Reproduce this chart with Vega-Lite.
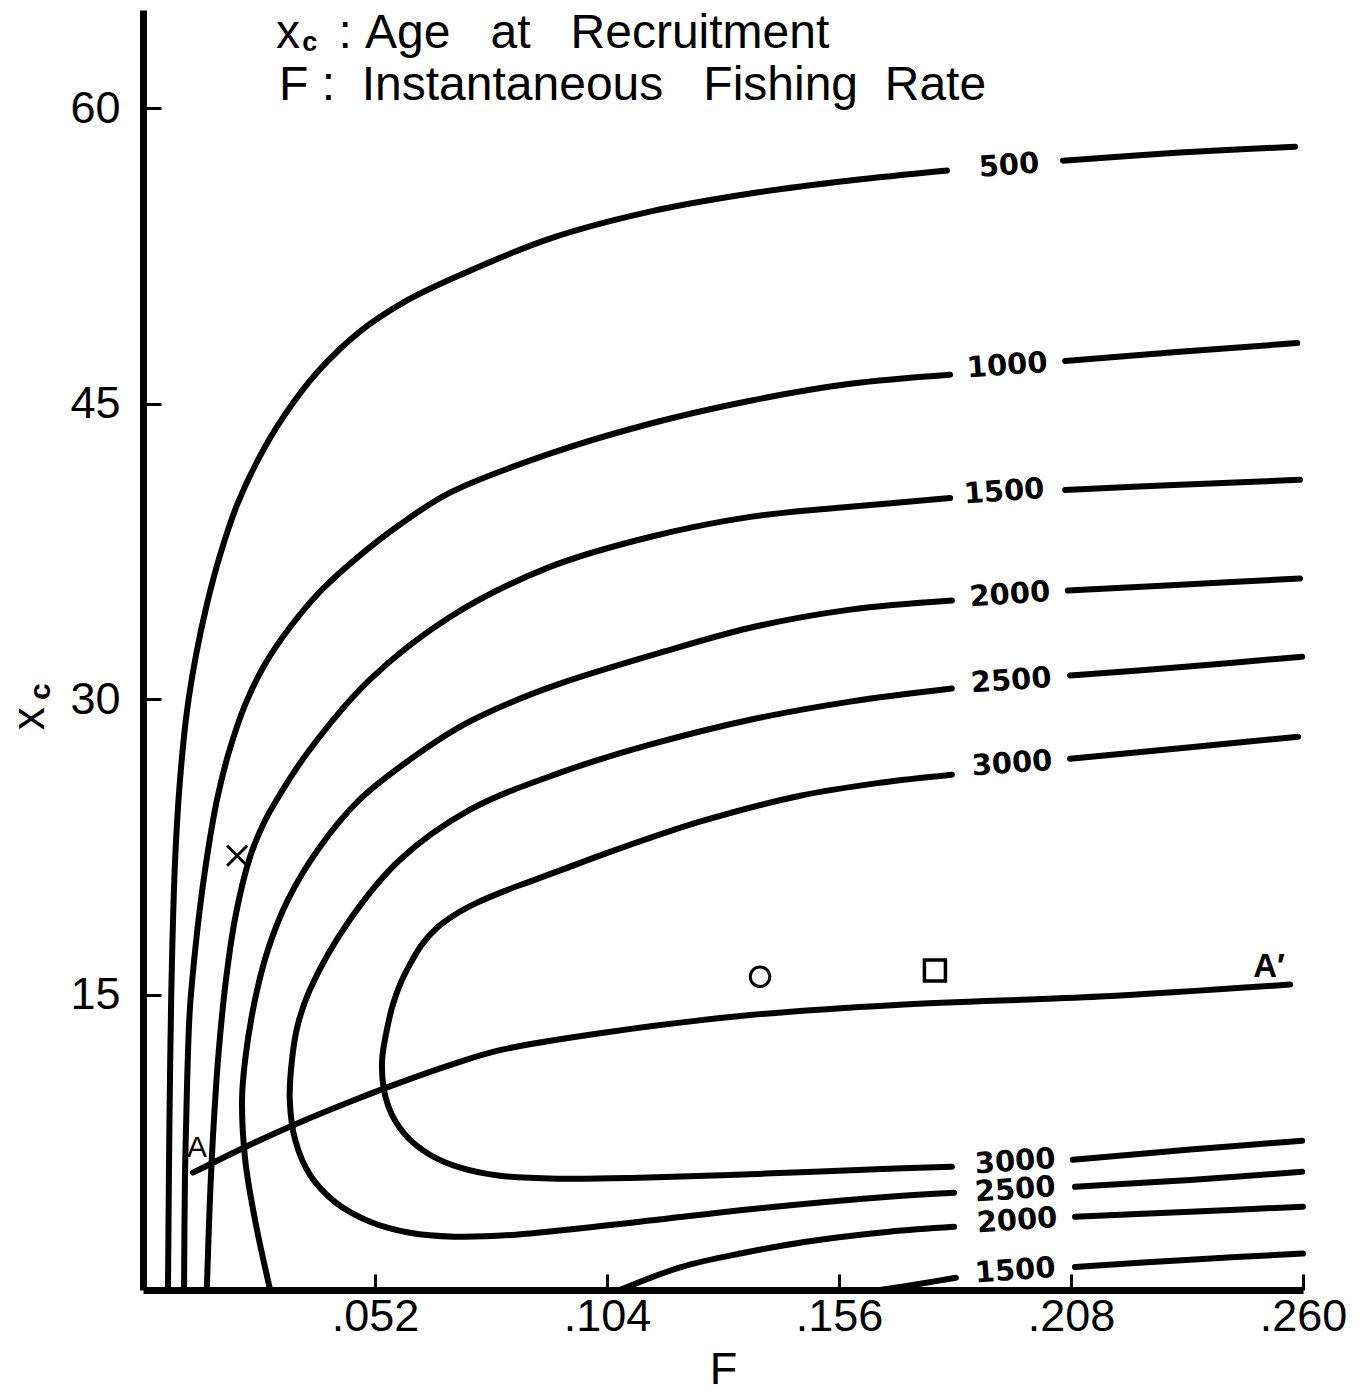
{
  "$schema": "https://vega.github.io/schema/vega-lite/v6.json",
  "width": 1160,
  "height": 1280,
  "autosize": {"type": "none"},
  "padding": {"left": 143, "top": 10, "right": 60, "bottom": 102},
  "background": "white",
  "config": {
    "view": {"stroke": null},
    "axis": {
      "domainColor": "black", "domainWidth": 7, "tickColor": "black", "tickWidth": 3,
      "labelColor": "black", "labelFont": "Liberation Sans", "labelFontSize": 45,
      "titleFont": "Liberation Sans", "titleFontSize": 45, "titleFontWeight": "normal",
      "titleColor": "black", "grid": false, "labelFlush": false
    }
  },
  "encoding": {
    "x": {"field": "F", "type": "quantitative",
      "scale": {"domain": [0, 0.26], "nice": false, "zero": false},
      "axis": {"title": "F", "values": [0.052, 0.104, 0.156, 0.208, 0.26],
        "labelExpr": "substring(format(datum.value, '.3f'), 1)",
        "tickSize": -16, "labelPadding": 20, "titlePadding": 8}},
    "y": {"field": "Y", "type": "quantitative",
      "scale": {"domain": [0, 65], "nice": false},
      "axis": {"title": null, "values": [15, 30, 45, 60], "tickSize": -18, "labelPadding": 41}}
  },
  "layer": [
    {
      "data": {"values": [
        {"c":"500L","i":1,"F":0.0056,"Y":0},{"c":"500L","i":2,"F":0.0058,"Y":5.6},{"c":"500L","i":3,"F":0.0061,"Y":11.7},{"c":"500L","i":4,"F":0.0065,"Y":16.77},{"c":"500L","i":5,"F":0.0072,"Y":21.85},{"c":"500L","i":6,"F":0.0083,"Y":25.92},{"c":"500L","i":7,"F":0.0099,"Y":29.47},{"c":"500L","i":8,"F":0.0119,"Y":32.26},{"c":"500L","i":9,"F":0.0143,"Y":34.8},{"c":"500L","i":10,"F":0.0173,"Y":37.34},{"c":"500L","i":11,"F":0.0211,"Y":39.88},{"c":"500L","i":12,"F":0.0258,"Y":42.17},{"c":"500L","i":13,"F":0.0318,"Y":44.45},{"c":"500L","i":14,"F":0.0392,"Y":46.64},{"c":"500L","i":15,"F":0.0486,"Y":48.67},{"c":"500L","i":16,"F":0.0587,"Y":50.19},{"c":"500L","i":17,"F":0.0688,"Y":51.31},{"c":"500L","i":18,"F":0.0912,"Y":53.39},{"c":"500L","i":19,"F":0.1136,"Y":54.76},{"c":"500L","i":20,"F":0.1361,"Y":55.68},{"c":"500L","i":21,"F":0.1585,"Y":56.34},{"c":"500L","i":22,"F":0.1802,"Y":56.85},
        {"c":"500R","i":23,"F":0.2062,"Y":57.35},{"c":"500R","i":24,"F":0.2324,"Y":57.76},{"c":"500R","i":25,"F":0.2582,"Y":58.06},
        {"c":"1000L","i":30,"F":0.0092,"Y":0},{"c":"1000L","i":31,"F":0.0094,"Y":5.6},{"c":"1000L","i":32,"F":0.0099,"Y":10.68},{"c":"1000L","i":33,"F":0.0105,"Y":14.24},{"c":"1000L","i":34,"F":0.0117,"Y":17.28},{"c":"1000L","i":35,"F":0.013,"Y":19.82},{"c":"1000L","i":36,"F":0.0146,"Y":22.36},{"c":"1000L","i":37,"F":0.0166,"Y":24.91},{"c":"1000L","i":38,"F":0.0193,"Y":27.35},{"c":"1000L","i":39,"F":0.0229,"Y":29.73},{"c":"1000L","i":40,"F":0.0273,"Y":31.76},{"c":"1000L","i":41,"F":0.0329,"Y":33.64},{"c":"1000L","i":42,"F":0.0397,"Y":35.47},{"c":"1000L","i":43,"F":0.0475,"Y":37.09},{"c":"1000L","i":44,"F":0.0576,"Y":38.87},{"c":"1000L","i":45,"F":0.0688,"Y":40.49},{"c":"1000L","i":46,"F":0.0912,"Y":42.47},{"c":"1000L","i":47,"F":0.1136,"Y":43.99},{"c":"1000L","i":48,"F":0.1361,"Y":45.16},{"c":"1000L","i":49,"F":0.1585,"Y":46.02},{"c":"1000L","i":50,"F":0.1809,"Y":46.48},
        {"c":"1000R","i":51,"F":0.2067,"Y":47.18},{"c":"1000R","i":52,"F":0.2324,"Y":47.64},{"c":"1000R","i":53,"F":0.2587,"Y":48.09},
        {"c":"1500L","i":60,"F":0.0143,"Y":0},{"c":"1500L","i":61,"F":0.015,"Y":4.59},{"c":"1500L","i":62,"F":0.0159,"Y":8.65},{"c":"1500L","i":63,"F":0.017,"Y":12.2},{"c":"1500L","i":64,"F":0.0186,"Y":15.76},{"c":"1500L","i":65,"F":0.0208,"Y":19.06},{"c":"1500L","i":66,"F":0.024,"Y":22.0},{"c":"1500L","i":67,"F":0.0269,"Y":23.63},{"c":"1500L","i":68,"F":0.03,"Y":24.91},{"c":"1500L","i":69,"F":0.0374,"Y":27.45},{"c":"1500L","i":70,"F":0.0509,"Y":31.01},{"c":"1500L","i":71,"F":0.0688,"Y":34.18},{"c":"1500L","i":72,"F":0.0912,"Y":36.72},{"c":"1500L","i":73,"F":0.1136,"Y":38.24},{"c":"1500L","i":74,"F":0.1361,"Y":39.26},{"c":"1500L","i":75,"F":0.1585,"Y":39.77},{"c":"1500L","i":76,"F":0.1809,"Y":40.22},
        {"c":"1500R","i":77,"F":0.2067,"Y":40.63},{"c":"1500R","i":78,"F":0.2324,"Y":40.89},{"c":"1500R","i":79,"F":0.2593,"Y":41.14},
        {"c":"1500bL","i":80,"F":0.1652,"Y":0},{"c":"1500bL","i":81,"F":0.1742,"Y":0.32},{"c":"1500bL","i":82,"F":0.1822,"Y":0.62},
        {"c":"1500bR","i":83,"F":0.2089,"Y":1.17},{"c":"1500bR","i":84,"F":0.2347,"Y":1.54},{"c":"1500bR","i":85,"F":0.26,"Y":1.85},
        {"c":"2000L","i":90,"F":0.0285,"Y":0},{"c":"2000L","i":91,"F":0.0251,"Y":3.57},{"c":"2000L","i":92,"F":0.0229,"Y":6.62},{"c":"2000L","i":93,"F":0.0222,"Y":9.67},{"c":"2000L","i":94,"F":0.0229,"Y":11.7},{"c":"2000L","i":95,"F":0.0251,"Y":14.74},{"c":"2000L","i":96,"F":0.028,"Y":17.28},{"c":"2000L","i":97,"F":0.0325,"Y":19.82},{"c":"2000L","i":98,"F":0.0392,"Y":22.36},{"c":"2000L","i":99,"F":0.0486,"Y":24.91},{"c":"2000L","i":100,"F":0.0598,"Y":26.93},{"c":"2000L","i":101,"F":0.0711,"Y":28.61},{"c":"2000L","i":102,"F":0.0823,"Y":29.82},{"c":"2000L","i":103,"F":0.0935,"Y":30.79},{"c":"2000L","i":104,"F":0.1152,"Y":32.31},{"c":"2000L","i":105,"F":0.1361,"Y":33.63},{"c":"2000L","i":106,"F":0.1585,"Y":34.55},{"c":"2000L","i":107,"F":0.1813,"Y":35.01},
        {"c":"2000R","i":108,"F":0.2073,"Y":35.52},{"c":"2000R","i":109,"F":0.2336,"Y":35.83},{"c":"2000R","i":110,"F":0.2593,"Y":36.13},
        {"c":"2000bL","i":111,"F":0.1069,"Y":0},{"c":"2000bL","i":112,"F":0.1208,"Y":1.18},{"c":"2000bL","i":113,"F":0.1347,"Y":1.89},{"c":"2000bL","i":114,"F":0.1486,"Y":2.45},{"c":"2000bL","i":115,"F":0.1672,"Y":2.96},{"c":"2000bL","i":116,"F":0.1818,"Y":3.21},
        {"c":"2000bR","i":117,"F":0.2089,"Y":3.72},{"c":"2000bR","i":118,"F":0.2347,"Y":3.97},{"c":"2000bR","i":119,"F":0.26,"Y":4.23},
        {"c":"2500L","i":120,"F":0.1813,"Y":30.54},{"c":"2500L","i":121,"F":0.1585,"Y":29.88},{"c":"2500L","i":122,"F":0.1361,"Y":28.96},{"c":"2500L","i":123,"F":0.1136,"Y":27.69},{"c":"2500L","i":124,"F":0.0935,"Y":26.27},{"c":"2500L","i":125,"F":0.0733,"Y":24.39},{"c":"2500L","i":126,"F":0.0576,"Y":21.85},{"c":"2500L","i":127,"F":0.0464,"Y":18.81},{"c":"2500L","i":128,"F":0.0374,"Y":15.25},{"c":"2500L","i":129,"F":0.0347,"Y":13.47},{"c":"2500L","i":130,"F":0.0334,"Y":11.7},{"c":"2500L","i":131,"F":0.0329,"Y":9.66},{"c":"2500L","i":132,"F":0.0341,"Y":7.63},{"c":"2500L","i":133,"F":0.0374,"Y":5.86},{"c":"2500L","i":134,"F":0.043,"Y":4.48},{"c":"2500L","i":135,"F":0.0509,"Y":3.47},{"c":"2500L","i":136,"F":0.0598,"Y":2.91},{"c":"2500L","i":137,"F":0.0697,"Y":2.71},{"c":"2500L","i":138,"F":0.0836,"Y":2.81},{"c":"2500L","i":139,"F":0.1114,"Y":3.47},{"c":"2500L","i":140,"F":0.1394,"Y":4.18},{"c":"2500L","i":141,"F":0.1672,"Y":4.74},{"c":"2500L","i":142,"F":0.1818,"Y":4.94},
        {"c":"2500uR","i":143,"F":0.2078,"Y":31.2},{"c":"2500uR","i":144,"F":0.2336,"Y":31.65},{"c":"2500uR","i":145,"F":0.2598,"Y":32.16},
        {"c":"2500lR","i":146,"F":0.2089,"Y":5.24},{"c":"2500lR","i":147,"F":0.2347,"Y":5.59},{"c":"2500lR","i":148,"F":0.2598,"Y":6.0},
        {"c":"3000L","i":150,"F":0.1813,"Y":26.17},{"c":"3000L","i":151,"F":0.1652,"Y":25.76},{"c":"3000L","i":152,"F":0.1473,"Y":25.1},{"c":"3000L","i":153,"F":0.1248,"Y":23.78},{"c":"3000L","i":154,"F":0.1024,"Y":22.06},{"c":"3000L","i":155,"F":0.0946,"Y":21.4},{"c":"3000L","i":156,"F":0.0867,"Y":20.74},{"c":"3000L","i":157,"F":0.0807,"Y":20.23},{"c":"3000L","i":158,"F":0.0749,"Y":19.67},{"c":"3000L","i":159,"F":0.0699,"Y":19.06},{"c":"3000L","i":160,"F":0.0659,"Y":18.4},{"c":"3000L","i":161,"F":0.0625,"Y":17.54},{"c":"3000L","i":162,"F":0.0598,"Y":16.52},{"c":"3000L","i":163,"F":0.0576,"Y":15.51},{"c":"3000L","i":164,"F":0.056,"Y":14.49},{"c":"3000L","i":165,"F":0.0549,"Y":13.47},{"c":"3000L","i":166,"F":0.0536,"Y":11.7},{"c":"3000L","i":167,"F":0.054,"Y":10.17},{"c":"3000L","i":168,"F":0.0558,"Y":8.9},{"c":"3000L","i":169,"F":0.0594,"Y":7.73},{"c":"3000L","i":170,"F":0.0643,"Y":6.87},{"c":"3000L","i":171,"F":0.0711,"Y":6.21},{"c":"3000L","i":172,"F":0.08,"Y":5.8},{"c":"3000L","i":173,"F":0.0935,"Y":5.65},{"c":"3000L","i":174,"F":0.1114,"Y":5.7},{"c":"3000L","i":175,"F":0.1394,"Y":5.91},{"c":"3000L","i":176,"F":0.1672,"Y":6.16},{"c":"3000L","i":177,"F":0.1813,"Y":6.26},
        {"c":"3000uR","i":178,"F":0.2078,"Y":26.98},{"c":"3000uR","i":179,"F":0.2336,"Y":27.54},{"c":"3000uR","i":180,"F":0.2589,"Y":28.1},
        {"c":"3000lR","i":181,"F":0.2084,"Y":6.62},{"c":"3000lR","i":182,"F":0.2347,"Y":7.13},{"c":"3000lR","i":183,"F":0.2598,"Y":7.58},
        {"c":"AA","i":184,"F":0.0112,"Y":5.96},{"c":"AA","i":185,"F":0.024,"Y":7.38},{"c":"AA","i":186,"F":0.0352,"Y":8.52},{"c":"AA","i":187,"F":0.0464,"Y":9.56},{"c":"AA","i":188,"F":0.0576,"Y":10.53},{"c":"AA","i":189,"F":0.0688,"Y":11.42},{"c":"AA","i":190,"F":0.08,"Y":12.18},{"c":"AA","i":191,"F":0.1024,"Y":13.04},{"c":"AA","i":192,"F":0.1361,"Y":13.96},{"c":"AA","i":193,"F":0.1697,"Y":14.49},{"c":"AA","i":194,"F":0.2145,"Y":14.9},{"c":"AA","i":195,"F":0.2571,"Y":15.51}
      ]},
      "mark": {"type": "line", "color": "black", "strokeWidth": 6, "interpolate": "catmull-rom", "strokeCap": "round", "strokeJoin": "round"},
      "encoding": {"detail": {"field": "c"}, "order": {"field": "i", "type": "quantitative"}}
    },
    {
      "data": {"values": [{"F": 0.1383, "Y": 15.91}]},
      "mark": {"type": "point", "shape": "circle", "filled": false, "color": "black", "strokeWidth": 3, "size": 380, "opacity": 1}
    },
    {
      "data": {"values": [{"F": 0.1775, "Y": 16.22}]},
      "mark": {"type": "point", "shape": "square", "filled": false, "color": "black", "strokeWidth": 3.5, "size": 440, "opacity": 1}
    },
    {
      "data": {"values": [{"F": 0.0211, "Y": 22.05}]},
      "mark": {"type": "point", "shape": "M -1 -1 L 1 1 M -1 1 L 1 -1", "filled": false, "color": "black", "strokeWidth": 3, "size": 400, "opacity": 1}
    },
    {
      "data": {"values": [
        {"t":"500","F":0.1941,"Y":57.1},{"t":"1000","F":0.1937,"Y":46.94},{"t":"1500","F":0.193,"Y":40.54},{"t":"2000","F":0.1943,"Y":35.31},{"t":"2500","F":0.1946,"Y":30.94},{"t":"3000","F":0.1948,"Y":26.73},
        {"t":"3000","F":0.1955,"Y":6.52},{"t":"2500","F":0.1955,"Y":5.09},{"t":"2000","F":0.1959,"Y":3.52},{"t":"1500","F":0.1955,"Y":0.98}
      ]},
      "mark": {"type": "text", "font": "DejaVu Sans", "fontWeight": "bold", "fontSize": 29, "color": "black", "align": "center", "baseline": "middle", "angle": 356},
      "encoding": {"text": {"field": "t"}}
    },
    {
      "data": {"values": [
        {"t":"x","F":0.0298,"Y":63.09},
        {"t":":\u00a0Age\u00a0\u00a0\u00a0at\u00a0\u00a0\u00a0Recruitment","F":0.0438,"Y":63.09},
        {"t":"F\u00a0:\u00a0\u00a0Instantaneous\u00a0\u00a0\u00a0Fishing\u00a0\u00a0Rate","F":0.0305,"Y":60.45}
      ]},
      "mark": {"type": "text", "font": "Liberation Sans", "fontSize": 48, "color": "black", "align": "left", "baseline": "alphabetic"},
      "encoding": {"text": {"field": "t"}}
    },
    {
      "data": {"values": [{"t":"c","F":0.0357,"Y":62.93}]},
      "mark": {"type": "text", "font": "Liberation Sans", "fontSize": 27, "fontWeight": "bold", "color": "black", "align": "left", "baseline": "alphabetic"},
      "encoding": {"text": {"field": "t"}}
    },
    {
      "data": {"values": [{"t":"x","F":-0.0253,"Y":29.01}]},
      "mark": {"type": "text", "font": "Liberation Sans", "fontSize": 46, "color": "black", "align": "center", "baseline": "middle", "angle": 270},
      "encoding": {"text": {"field": "t"}}
    },
    {
      "data": {"values": [{"t":"c","F":-0.0228,"Y":30.39}]},
      "mark": {"type": "text", "font": "Liberation Sans", "fontSize": 30, "fontWeight": "bold", "color": "black", "align": "center", "baseline": "middle", "angle": 270},
      "encoding": {"text": {"field": "t"}}
    },
    {
      "data": {"values": [{"t":"A","F":0.0121,"Y":7.23}]},
      "mark": {"type": "text", "font": "Liberation Sans", "fontSize": 30, "color": "black", "align": "center", "baseline": "middle"},
      "encoding": {"text": {"field": "t"}}
    },
    {
      "data": {"values": [{"t":"A\u2032","F":0.2524,"Y":16.42}]},
      "mark": {"type": "text", "font": "Liberation Sans", "fontSize": 33, "fontWeight": "bold", "color": "black", "align": "center", "baseline": "middle"},
      "encoding": {"text": {"field": "t"}}
    }
  ]
}
